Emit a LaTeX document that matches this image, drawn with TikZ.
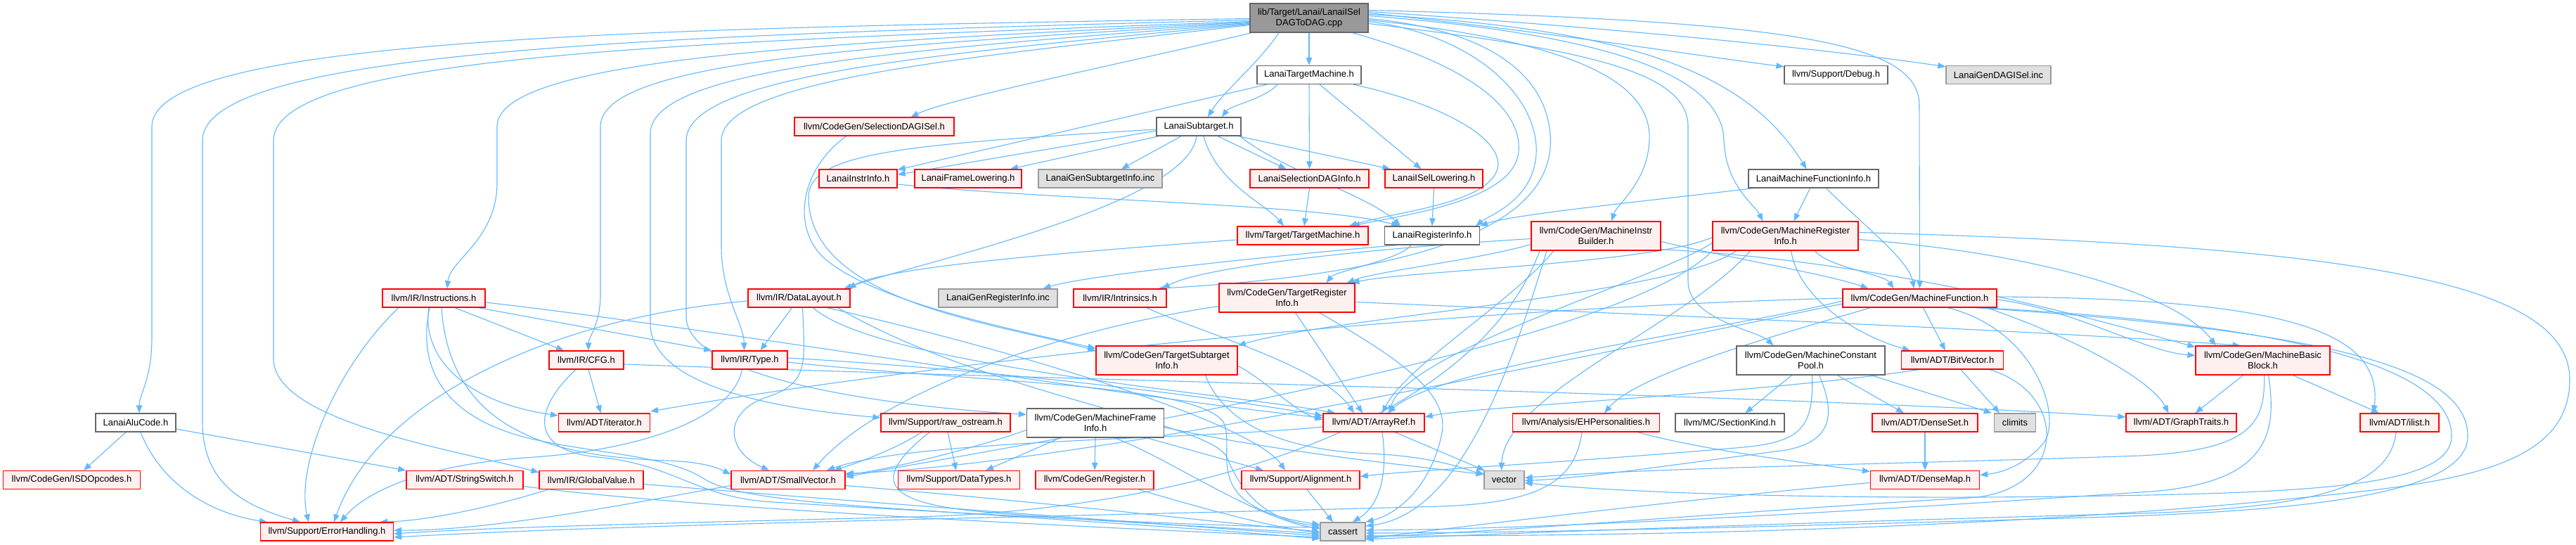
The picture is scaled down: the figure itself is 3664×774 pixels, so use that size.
\documentclass[tikz,border=0pt]{standalone}
\usepackage{fontspec}
\setmainfont{Liberation Sans}
\usetikzlibrary{arrows.meta}
\definecolor{edgeblue}{HTML}{63B8FF}
\definecolor{redfill}{HTML}{FFF0F0}
\definecolor{redline}{HTML}{FF0000}
\definecolor{grayline}{HTML}{666666}
\definecolor{gfill}{HTML}{E0E0E0}
\definecolor{gline}{HTML}{999999}
\definecolor{rootfill}{HTML}{999999}
\pgfdeclarelayer{bg}
\pgfsetlayers{bg,main}
\tikzset{
  nb/.style={draw, rectangle, inner sep=0pt, minimum height=26pt, font=\fontsize{13}{15}\selectfont, align=center, line width=1.3pt, text=black},
  two/.style={minimum height=41pt},
  rn/.style={nb, fill=redfill, draw=redline},
  wn/.style={nb, fill=white, draw=grayline},
  gn/.style={nb, fill=gfill, draw=gline},
  rt/.style={nb, fill=rootfill, draw=grayline},
  ed/.style={draw=edgeblue, line width=1.1pt, -{Triangle[length=11pt,width=8.5pt]}}
}
\begin{document}
\begin{tikzpicture}[x=1pt,y=-1pt]
\useasboundingbox (0,0) rectangle (3664,774);
% ---------------- nodes
\node[rt, two, minimum width=168pt] (root) at (1862,25.5) {lib/Target/Lanai/LanaiISel\\DAGToDAG.cpp};
\node[wn, minimum width=148pt] (ltm) at (1862,106.5) {LanaiTargetMachine.h};
\node[wn, minimum width=147pt] (dbg) at (2611.5,106.5) {llvm/Support/Debug.h};
\node[gn, minimum width=149pt] (gdag) at (2842.5,106.5) {LanaiGenDAGISel.inc};
\node[rn, minimum width=227pt] (sdag) at (1243.5,180) {llvm/CodeGen/SelectionDAGISel.h};
\node[wn, minimum width=120pt] (lsub) at (1705,180) {LanaiSubtarget.h};
\node[rn, minimum width=111pt] (linstr) at (1220.5,254) {LanaiInstrInfo.h};
\node[rn, minimum width=152pt] (lfrm) at (1377,254) {LanaiFrameLowering.h};
\node[gn, minimum width=176pt] (lgsub) at (1565,254) {LanaiGenSubtargetInfo.inc};
\node[rn, minimum width=169pt] (lsdi) at (1862.5,254) {LanaiSelectionDAGInfo.h};
\node[rn, minimum width=139pt] (lisel) at (2039.5,254) {LanaiISelLowering.h};
\node[wn, minimum width=185pt] (lmfi) at (2579.5,254) {LanaiMachineFunctionInfo.h};
\node[rn, minimum width=186pt] (tm) at (1853,335) {llvm/Target/TargetMachine.h};
\node[wn, minimum width=135pt] (lri) at (2037,335) {LanaiRegisterInfo.h};
\node[rn, two, minimum width=184pt] (mib) at (2270,335.5) {llvm/CodeGen/MachineInstr\\Builder.h};
\node[rn, two, minimum width=207pt] (mri) at (2539.5,335.5) {llvm/CodeGen/MachineRegister\\Info.h};
\node[rn, minimum width=146pt] (instr) at (617,424) {llvm/IR/Instructions.h};
\node[rn, minimum width=145pt] (dl) at (1136.5,424) {llvm/IR/DataLayout.h};
\node[gn, minimum width=169pt] (lgreg) at (1419.5,424) {LanaiGenRegisterInfo.inc};
\node[rn, minimum width=132pt] (intr) at (1593,424) {llvm/IR/Intrinsics.h};
\node[rn, two, minimum width=193pt] (tri) at (1830.5,423.5) {llvm/CodeGen/TargetRegister\\Info.h};
\node[rn, minimum width=219pt] (mf) at (2730.5,424) {llvm/CodeGen/MachineFunction.h};
\node[rn, minimum width=106pt] (cfg) at (834,512) {llvm/IR/CFG.h};
\node[rn, minimum width=107pt] (type) at (1066.5,512) {llvm/IR/Type.h};
\node[rn, two, minimum width=201pt] (tsi) at (1659.5,512.5) {llvm/CodeGen/TargetSubtarget\\Info.h};
\node[wn, two, minimum width=211pt] (mcp) at (2575.5,512.5) {llvm/CodeGen/MachineConstant\\Pool.h};
\node[rn, minimum width=145pt] (bv) at (2777,512) {llvm/ADT/BitVector.h};
\node[rn, two, minimum width=191pt] (mbb) at (3218.5,512.5) {llvm/CodeGen/MachineBasic\\Block.h};
\node[wn, minimum width=114pt] (alu) at (193,601) {LanaiAluCode.h};
\node[rn, minimum width=130pt] (iter) at (859.5,601) {llvm/ADT/iterator.h};
\node[rn, minimum width=184pt] (raw) at (1345,601) {llvm/Support/raw\_ostream.h};
\node[wn, two, minimum width=195pt] (mfi) at (1558,601.5) {llvm/CodeGen/MachineFrame\\Info.h};
\node[rn, minimum width=144pt] (aref) at (1954,601) {llvm/ADT/ArrayRef.h};
\node[rn, minimum width=209pt] (ehp) at (2256,601) {llvm/Analysis/EHPersonalities.h};
\node[wn, minimum width=155pt] (sk) at (2460.5,601) {llvm/MC/SectionKind.h};
\node[rn, minimum width=150pt] (dset) at (2738,601) {llvm/ADT/DenseSet.h};
\node[gn, minimum width=59pt] (clim) at (2866,601) {climits};
\node[rn, minimum width=157pt] (gt) at (3102.5,601) {llvm/ADT/GraphTraits.h};
\node[rn, minimum width=112pt] (ilist) at (3413,601) {llvm/ADT/ilist.h};
\node[rn, minimum width=195pt] (isd) at (102,682.5) {llvm/CodeGen/ISDOpcodes.h};
\node[rn, minimum width=166pt] (ssw) at (661,682.5) {llvm/ADT/StringSwitch.h};
\node[rn, minimum width=148pt] (gv) at (841,682.5) {llvm/IR/GlobalValue.h};
\node[rn, minimum width=162pt] (svec) at (1121,682.5) {llvm/ADT/SmallVector.h};
\node[rn, minimum width=173pt] (dtyp) at (1364,682.5) {llvm/Support/DataTypes.h};
\node[rn, minimum width=168pt] (reg) at (1557,682.5) {llvm/CodeGen/Register.h};
\node[rn, minimum width=168pt] (algn) at (1850,682.5) {llvm/Support/Alignment.h};
\node[gn, minimum width=57pt] (vec) at (2139.5,682.5) {vector};
\node[rn, minimum width=155pt] (dmap) at (2738,682.5) {llvm/ADT/DenseMap.h};
\node[rn, minimum width=189pt] (errh) at (465,756) {llvm/Support/ErrorHandling.h};
\node[gn, minimum width=64pt] (cass) at (1910,756) {cassert};
% ---------------- edges
\begin{pgfonlayer}{bg}
\fill[white] (0,0) rectangle (3664,774);
% root
\draw[ed] ([yshift=-1pt]root.west) .. controls (900,40) and (216,55) .. (216,180) -- (216,480) .. controls (216,540) and (198,560) .. ([xshift=5pt]alu.north);
\draw[ed] ([yshift=-3pt]root.west) .. controls (950,50) and (288,70) .. (288,200) -- (288,600) .. controls (288,690) and (350,720) .. ([xshift=-38pt]errh.north);
\draw[ed] ([yshift=-5pt]root.west) .. controls (1000,60) and (389,75) .. (389,200) -- (389,510) .. controls (389,600) and (650,640) .. ([yshift=-3pt]gv.north west);
\draw[ed] ([yshift=-6pt]root.west) .. controls (1200,60) and (707,80) .. (707,180) -- (707,260) .. controls (707,340) and (640,370) .. ([xshift=19pt]instr.north);
\draw[ed] ([yshift=-7pt]root.west) .. controls (1250,65) and (854,85) .. (854,180) -- (854,420) .. controls (854,460) and (837,480) .. ([xshift=3pt]cfg.north);
\draw[ed] ([yshift=-8pt]root.west) .. controls (1300,70) and (925,95) .. (925,190) -- (925,460) .. controls (925,560) and (1150,585) .. ([yshift=7pt]raw.west);
\draw[ed] ([yshift=-9pt]root.west) .. controls (1350,75) and (976,105) .. (976,200) -- (976,450) .. controls (976,545) and (1300,580) .. ([yshift=12pt]mfi.west);
\draw[ed] ([yshift=-10pt]root.west) .. controls (1400,80) and (1026,110) .. (1026,200) -- (1026,350) .. controls (1026,420) and (1058,460) .. ([xshift=-8pt]type.north);
\draw[ed] ([xshift=3pt]root.south west) .. controls (1600,90) and (1350,140) .. ([xshift=52pt]sdag.north);
\draw[ed] ([xshift=-43pt]root.south) .. controls (1790,90) and (1740,130) .. ([xshift=13pt]lsub.north);
\draw[ed] (root.south) -- (ltm.north);
\draw[ed] ([xshift=-23pt]root.south east) .. controls (2080,90) and (2165,150) .. (2160,215) .. controls (2155,285) and (2000,305) .. ([xshift=70pt]tm.north);
\draw[ed] ([yshift=-5pt]root.east) .. controls (2100,50) and (2190,140) .. (2185,220) .. controls (2180,285) and (2120,305) .. ([xshift=62pt]lri.north);
\draw[ed] ([yshift=-3pt]root.east) .. controls (2250,60) and (2350,120) .. (2346,200) .. controls (2343,260) and (2300,290) .. ([xshift=22pt]mib.north);
\draw[ed] ([yshift=-1pt]root.east) .. controls (2150,45) and (2210,130) .. (2205,210) .. controls (2195,330) and (2000,390) .. ([xshift=54pt]intr.north);
\draw[ed] ([yshift=3pt]root.east) .. controls (2300,50) and (2450,110) .. (2452,200) .. controls (2455,265) and (2495,290) .. ([xshift=-32pt]mri.north);
\draw[ed] ([yshift=5pt]root.east) .. controls (2300,40) and (2480,95) .. ([xshift=-10pt]lmfi.north);
\draw[ed] ([yshift=7pt]root.east) .. controls (2200,45) and (2420,80) .. ([yshift=-2pt]dbg.north west);
\draw[ed] ([yshift=9pt]root.east) .. controls (2300,40) and (2600,70) .. ([yshift=-2pt]gdag.north west);
\draw[ed] ([yshift=11pt]root.east) .. controls (2550,30) and (2730,60) .. (2730,150) -- (mf.north);
\draw[ed] ([yshift=-8pt]root.east) .. controls (2250,70) and (2401,100) .. (2401,180) -- (2401,400) .. controls (2401,455) and (2500,470) .. ([xshift=-53pt]mcp.north);
% LanaiTargetMachine
\draw[ed] ([xshift=-45pt]ltm.south) .. controls (1800,140) and (1750,150) .. ([xshift=33pt]lsub.north);
\draw[ed] ([xshift=-60pt]ltm.south) -- ([yshift=-1pt]linstr.north east);
\draw[ed] (ltm.south) -- (lsdi.north);
\draw[ed] ([xshift=15pt]ltm.south) -- ([xshift=-18pt]lisel.north);
\draw[ed] ([xshift=63pt]ltm.south) .. controls (2060,150) and (2140,200) .. (2130,240) .. controls (2115,290) and (1990,300) .. ([xshift=66pt]tm.north);
% LanaiSubtarget
\draw[ed] ([yshift=-6pt]lsub.west) -- ([yshift=-8pt]linstr.north east);
\draw[ed] ([xshift=4pt]lsub.south west) -- ([xshift=60pt]lfrm.north);
\draw[ed] ([xshift=-25pt]lsub.south) -- ([xshift=30pt]lgsub.north);
\draw[ed] ([xshift=27pt]lsub.south) -- ([xshift=-33pt]lsdi.north);
\draw[ed] ([xshift=-4pt]lsub.south east) -- ([xshift=-62pt]lisel.north);
\draw[ed] ([xshift=7pt]lsub.south) .. controls (1730,260) and (1800,290) .. ([xshift=-27pt]tm.north);
\draw[ed] ([xshift=-2pt]lsub.south east) .. controls (1820,240) and (1950,280) .. ([xshift=-45pt]lri.north);
\draw[ed] ([xshift=-3pt]lsub.south) .. controls (1690,290) and (1320,370) .. ([xshift=64pt]dl.north);
\draw[ed] ([yshift=-4pt]lsub.west) .. controls (1300,205) and (1150,215) .. (1150,280) .. controls (1150,430) and (1420,460) .. ([yshift=14pt]tsi.west);
% other upper edges
\draw[ed] ([xshift=-40pt]sdag.south) .. controls (1140,240) and (1125,320) .. (1170,365) .. controls (1240,430) and (1450,470) .. ([yshift=17pt]tsi.west);
\draw[ed] ([yshift=-8pt]linstr.east) .. controls (1500,285) and (1880,290) .. ([xshift=-47pt]lri.north);
\draw[ed] (lsdi.south) -- ([xshift=2pt]tm.north);
\draw[ed] (lisel.south) -- (lri.north);
\draw[ed] ([xshift=8pt]lmfi.south west) .. controls (2350,285) and (2150,305) .. (lri.north east);
\draw[ed] ([xshift=-5pt]lmfi.south) -- ([xshift=12pt]mri.north);
\draw[ed] ([xshift=18pt]lmfi.south) .. controls (2650,320) and (2715,370) .. ([xshift=-8pt]mf.north);
\draw[ed] ([xshift=-30pt]lri.south) .. controls (1990,370) and (1900,385) .. ([xshift=56pt]tri.north);
\draw[ed] ([xshift=-50pt]lri.south) .. controls (1850,360) and (1550,390) .. ([xshift=64pt]lgreg.north);
\draw[ed] ([yshift=-6pt]tm.west) .. controls (1500,360) and (1260,380) .. ([xshift=70pt]dl.north);
% MachineInstrBuilder
\draw[ed] ([yshift=-8pt]mib.east) .. controls (2450,365) and (2600,390) .. ([xshift=-73pt]mf.north);
\draw[ed] ([yshift=2pt]mib.south east) .. controls (2700,372) and (3000,460) .. ([yshift=19pt]mbb.west);
\draw[ed] ([yshift=-12pt]mib.west) .. controls (2100,370) and (1960,385) .. ([xshift=85pt]tri.north);
\draw[ed] ([yshift=-4pt]mib.west) .. controls (2000,350) and (1720,375) .. ([xshift=60pt]intr.north);
\draw[ed] ([xshift=-60pt]mib.south) .. controls (2150,430) and (2000,520) .. ([xshift=12pt]aref.north);
\draw[ed] ([xshift=-80pt]mib.south) .. controls (2100,600) and (1700,725) .. (1300,735) .. controls (900,745) and (700,750) .. ([yshift=-3pt]errh.east);
\draw[ed] ([xshift=-70pt]mib.south) .. controls (2150,520) and (2080,730) .. ([yshift=8pt]cass.east);
% MachineRegisterInfo
\draw[ed] ([xshift=42pt]mri.south) .. controls (2600,380) and (2680,390) .. ([xshift=-37pt]mf.north);
\draw[ed] ([yshift=-5pt]mri.east) .. controls (2900,360) and (3100,420) .. ([xshift=-67pt]mbb.north);
\draw[ed] ([xshift=8pt]mri.south) .. controls (2560,430) and (2650,480) .. ([xshift=-60pt]bv.north);
\draw[ed] ([xshift=-70pt]mri.south) .. controls (2380,420) and (1900,450) .. (tsi.north east);
\draw[ed] ([yshift=-2pt]mri.west) .. controls (2350,375) and (2000,385) .. ([xshift=92pt]tri.north);
\draw[ed] ([yshift=-10pt]mri.west) .. controls (2350,400) and (2000,500) .. ([xshift=22pt]aref.north);
\draw[ed] (mri.south west) .. controls (2300,500) and (1400,640) .. ([yshift=4pt]svec.east);
\draw[ed] ([xshift=-50pt]mri.south) .. controls (2400,460) and (2140,560) .. ([xshift=-4pt]vec.north);
\draw[ed] ([yshift=5pt]mri.east) .. controls (3350,350) and (3655,400) .. (3655,540) .. controls (3655,680) and (3450,690) .. (3200,715) .. controls (2700,760) and (2200,762) .. ([yshift=-6pt]cass.east);
% MachineFunction
\draw[ed] ([xshift=5pt]mf.south) -- ([xshift=-10pt]bv.north);
\draw[ed] ([yshift=-2pt]mf.east) .. controls (2950,440) and (3050,500) .. ([yshift=7pt]mbb.west);
\draw[ed] ([xshift=95pt]mf.south) .. controls (2950,480) and (3060,540) .. ([xshift=-18pt]gt.north);
\draw[ed] ([yshift=2pt]mf.east) .. controls (3250,425) and (3390,470) .. ([xshift=-37pt]ilist.north);
\draw[ed] ([xshift=-70pt]mf.south) .. controls (2550,470) and (2330,530) .. ([xshift=26pt]ehp.north);
\draw[ed] ([yshift=-4pt]mf.west) .. controls (2450,470) and (2050,520) .. ([xshift=20pt]aref.north);
\draw[ed] (mf.west) .. controls (2000,440) and (1300,520) .. ([yshift=16pt]iter.east);
\draw[ed] ([yshift=-8pt]mf.west) .. controls (2000,560) and (1500,660) .. ([yshift=9pt]svec.east);
\draw[ed] ([xshift=40pt]mf.south) .. controls (2900,470) and (2935,600) .. (2905,632) .. controls (2880,660) and (2850,672) .. ([yshift=7pt]dmap.east);
\draw[ed] ([xshift=80pt]mf.south) .. controls (3300,470) and (3510,520) .. (3510,620) .. controls (3510,700) and (3300,725) .. (3000,735) .. controls (2500,750) and (2150,758) .. ([yshift=-2pt]cass.east);
\draw[ed] ([xshift=88pt]mf.south) .. controls (3250,460) and (3487,520) .. (3487,620) .. controls (3487,690) and (3300,700) .. (3000,705) .. controls (2600,712) and (2300,700) .. ([yshift=-4pt]vec.east);
% MachineBasicBlock
\draw[ed] ([xshift=-28pt]mbb.south) -- ([xshift=20pt]gt.north);
\draw[ed] ([xshift=43pt]mbb.south) -- ([xshift=-29pt]ilist.north);
\draw[ed] ([xshift=2pt]mbb.south) .. controls (3222,600) and (3205,640) .. (3044,648) .. controls (2700,660) and (2350,665) .. ([yshift=3pt]vec.east);
\draw[ed] ([xshift=8pt]mbb.south) .. controls (3240,620) and (3225,690) .. (3044,700) .. controls (2600,730) and (2200,752) .. ([yshift=2pt]cass.east);
% MachineConstantPool
\draw[ed] ([xshift=-27pt]mcp.south) -- ([xshift=22pt]sk.north);
\draw[ed] ([xshift=38pt]mcp.south) -- ([xshift=-30pt]dset.north);
\draw[ed] ([xshift=-20pt]mcp.south east) -- ([xshift=-3pt]clim.north west);
\draw[ed] ([xshift=2pt]mcp.south) .. controls (2580,610) and (2560,628) .. (2480,636) .. controls (2200,660) and (2020,668) .. ([yshift=5pt]algn.east);
\draw[ed] ([xshift=12pt]mcp.south) .. controls (2612,590) and (2605,628) .. (2540,640) .. controls (2350,665) and (2250,680) .. ([yshift=-1pt]vec.east);
% MachineFrameInfo
\draw[ed] ([xshift=-50pt]mfi.south) -- ([xshift=38pt]dtyp.north);
\draw[ed] (mfi.south) -- (reg.north);
\draw[ed] ([xshift=73pt]mfi.south) -- ([xshift=-53pt]algn.north);
\draw[ed] ([yshift=-10pt]mfi.west) .. controls (1380,640) and (1260,668) .. ([yshift=7pt]svec.east);
\draw[ed] ([xshift=27pt]mfi.south) .. controls (1660,650) and (1780,735) .. ([yshift=4pt]cass.west);
\draw[ed] ([yshift=-6pt]mfi.east) .. controls (1800,640) and (2000,662) .. ([yshift=8pt]vec.west);
\draw[ed] ([xshift=-22pt]reg.south east) .. controls (1700,720) and (1800,748) .. ([yshift=-2pt]cass.west);
% raw_ostream
\draw[ed] ([xshift=3pt]raw.south) -- ([xshift=-4pt]dtyp.north);
\draw[ed] ([xshift=-34pt]raw.south) .. controls (1280,635) and (1230,655) .. ([xshift=65pt]svec.north);
\draw[ed] ([xshift=-23pt]raw.south) .. controls (1240,680) and (1250,715) .. (1400,728) .. controls (1600,745) and (1800,752) .. ([yshift=-4pt]cass.west);
% ArrayRef, Alignment
\draw[ed] ([yshift=-6pt]aref.west) .. controls (1700,625) and (1300,625) .. ([xshift=55pt]svec.north);
\draw[ed] ([xshift=12pt]aref.south) .. controls (1975,680) and (1960,720) .. ([xshift=14pt]cass.north);
\draw[ed] ([xshift=30pt]aref.south) -- ([xshift=-28pt]vec.north);
\draw[ed] ([xshift=9pt]algn.south) -- ([xshift=-14pt]cass.north);
% BitVector, DenseSet, DenseMap, EH, ilist
\draw[ed] ([xshift=12pt]bv.south) -- ([xshift=-22pt]clim.north);
\draw[ed] ([xshift=-48pt]bv.south) .. controls (2500,560) and (2100,578) .. ([yshift=8pt]aref.east);
\draw[ed] ([xshift=-20pt]bv.south east) .. controls (2945,560) and (2940,700) .. (2800,708) .. controls (2500,725) and (2200,752) .. ([yshift=-8pt]cass.east);
\draw[ed] (dset.south) -- (dmap.north);
\draw[ed] ([yshift=-4pt]dmap.west) .. controls (2450,705) and (2150,740) .. ([yshift=-10pt]cass.east);
\draw[ed] ([xshift=74pt]ehp.south) .. controls (2420,640) and (2580,660) .. ([yshift=12pt]dmap.west);
\draw[ed] ([xshift=-6pt]ehp.south) .. controls (2240,690) and (2180,715) .. (2050,720) .. controls (1500,735) and (900,745) .. ([yshift=-8pt]errh.east);
\draw[ed] ([xshift=-5pt]ilist.south) .. controls (3400,690) and (3300,722) .. (3044,730) .. controls (2500,745) and (2100,760) .. ([yshift=-11pt]cass.east);
% CFG, Type
\draw[ed] ([xshift=3pt]cfg.south) -- ([xshift=-5pt]iter.north);
\draw[ed] ([yshift=-6pt]cfg.east) .. controls (1500,540) and (2500,560) .. ([yshift=8pt]gt.west);
\draw[ed] ([xshift=-15pt]cfg.south) .. controls (760,580) and (750,640) .. (850,650) .. controls (960,660) and (990,708) .. (1100,714) .. controls (1400,732) and (1700,748) .. ([yshift=6pt]cass.west);
\draw[ed] ([yshift=3pt]type.east) .. controls (1400,525) and (1700,560) .. ([yshift=10pt]aref.west);
\draw[ed] ([yshift=-3pt]type.east) .. controls (1400,545) and (1700,545) .. (1740,600) .. controls (1760,640) and (1700,720) .. ([yshift=10pt]cass.west);
\draw[ed] ([xshift=-11pt]type.south) .. controls (1040,600) and (900,640) .. (760,650) .. controls (600,660) and (520,700) .. ([xshift=19pt]errh.north);
% GlobalValue, StringSwitch, AluCode, SmallVector
\draw[ed] ([xshift=-62pt]gv.south) .. controls (720,715) and (620,740) .. ([xshift=-20pt]errh.north east);
\draw[ed] ([yshift=-6pt]gv.east) .. controls (1200,712) and (1650,745) .. ([yshift=-6pt]cass.west);
\draw[ed] ([yshift=-9pt]ssw.east) .. controls (1000,725) and (1600,752) .. ([yshift=-8pt]cass.west);
\draw[ed] ([xshift=-14pt]alu.south) -- ([xshift=17pt]isd.north);
\draw[ed] ([xshift=7pt]alu.south) .. controls (230,690) and (300,730) .. ([xshift=-85pt]errh.north);
\draw[ed] ([yshift=-9pt]alu.east) -- (ssw.north west);
\draw[ed] ([yshift=-8pt]svec.west) .. controls (900,715) and (700,755) .. ([yshift=2pt]errh.east);
\draw[ed] ([yshift=-8pt]svec.east) .. controls (1500,715) and (1750,745) .. (cass.west);
% Instructions
\draw[ed] ([xshift=30pt]instr.south) -- ([xshift=-32pt]cfg.north);
\draw[ed] ([xshift=-10pt]instr.south east) -- (type.north west);
\draw[ed] ([xshift=-7pt]instr.south) .. controls (600,500) and (650,570) .. ([yshift=10pt]iter.west);
\draw[ed] ([xshift=11pt]instr.south) .. controls (640,620) and (800,650) .. (950,655) .. controls (1000,657) and (1020,665) .. ([yshift=8pt]svec.west);
\draw[ed] ([xshift=-50pt]instr.south) .. controls (480,520) and (420,660) .. ([xshift=-26pt]errh.north);
\draw[ed] ([yshift=-6pt]instr.east) .. controls (1000,465) and (1600,565) .. ([yshift=7pt]aref.west);
\draw[ed] ([xshift=-6pt]instr.south) .. controls (590,540) and (650,600) .. (760,625) .. controls (850,645) and (950,648) .. (1000,680) .. controls (1030,700) and (1100,712) .. (1300,725) .. controls (1600,745) and (1750,755) .. ([yshift=-10pt]cass.west);
% DataLayout
\draw[ed] ([xshift=-10pt]dl.south) -- ([xshift=15pt]type.north);
\draw[ed] ([xshift=5pt]dl.south) .. controls (1145,520) and (1150,545) .. (1090,565) .. controls (1030,585) and (1030,640) .. ([xshift=-27pt]svec.north);
\draw[ed] ([yshift=-4pt]dl.west) .. controls (800,450) and (540,560) .. ([xshift=10pt]errh.north);
\draw[ed] ([xshift=20pt]dl.south) .. controls (1250,520) and (1750,560) .. ([xshift=-55pt]aref.north);
\draw[ed] ([xshift=40pt]dl.south) .. controls (1450,500) and (1780,600) .. ([xshift=-22pt]algn.north);
\draw[ed] ([xshift=55pt]dl.south) .. controls (1400,560) and (1720,600) .. (1745,650) .. controls (1765,700) and (1800,740) .. ([yshift=8pt]cass.west);
% TargetRegisterInfo, TargetSubtargetInfo, Intrinsics
\draw[ed] ([xshift=12pt]tri.south) -- ([xshift=-16pt]aref.north);
\draw[ed] ([xshift=46pt]tri.south) .. controls (1990,510) and (2065,560) .. (2050,620) .. controls (2035,690) and (1990,730) .. (cass.north east);
\draw[ed] ([yshift=-6pt]tri.east) .. controls (2400,450) and (2900,470) .. ([xshift=-32pt]mbb.north);
\draw[ed] ([yshift=-12pt]tri.west) .. controls (1500,470) and (1250,560) .. ([xshift=35pt]svec.north);
\draw[ed] ([yshift=-8pt]tsi.east) .. controls (1800,540) and (1840,585) .. ([yshift=4pt]aref.west);
\draw[ed] ([xshift=55pt]tsi.south) .. controls (1740,600) and (1820,640) .. (1950,645) .. controls (2050,650) and (2090,670) .. ([yshift=9pt]vec.west);
\draw[ed] ([xshift=38pt]intr.south) .. controls (1700,470) and (1880,520) .. ([xshift=-28pt]aref.north);
\end{pgfonlayer}
\end{tikzpicture}
\end{document}
